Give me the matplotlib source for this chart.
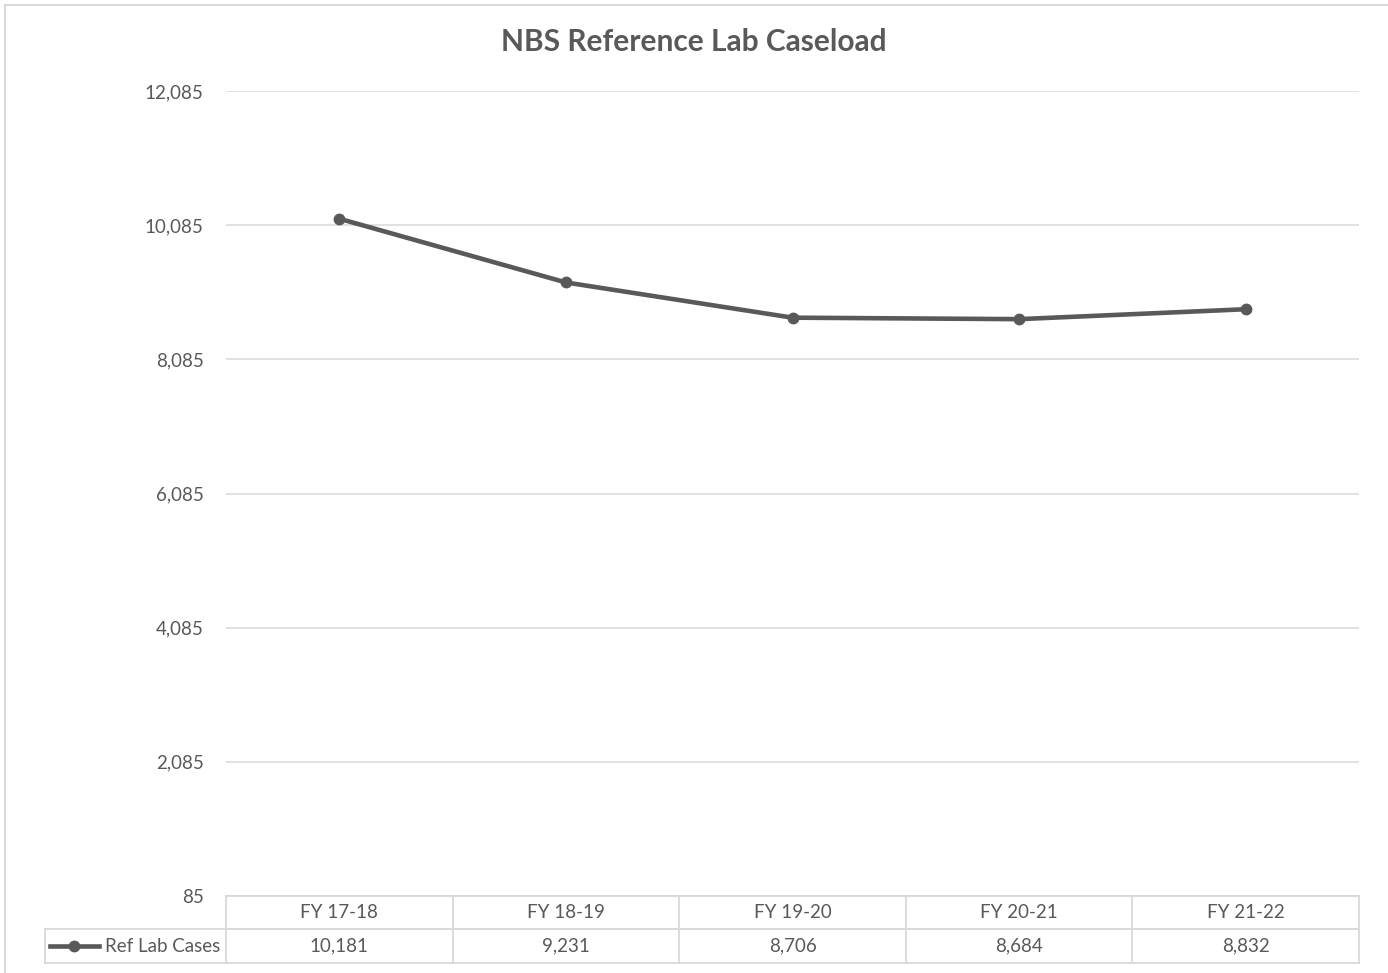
import numpy as np
import matplotlib.pyplot as plt
from matplotlib.lines import Line2D
import matplotlib.transforms as mtransforms

plt.rcParams['font.family'] = ['Lato', 'DejaVu Sans']

# Caseload per fiscal year
years = ['FY 17-18', 'FY 18-19', 'FY 19-20', 'FY 20-21', 'FY 21-22']
ref_lab_cases = [10181, 9231, 8706, 8684, 8832]
series_name = 'Ref Lab Cases'
y_ticks = [85, 2085, 4085, 6085, 8085, 10085, 12085]

line_col = '#595959'
grid_col = '#d9d9d9'
text_col = '#595959'
fs = 13.5

fig = plt.figure(figsize=(13.88, 9.73), dpi=100)
W, H = 1388, 973

# plot area in pixels: x 226..1359, y 91..896
ax = fig.add_axes([226 / W, (H - 896) / H, (1359 - 226) / W, (896 - 91) / H])

x = np.arange(len(years))
ax.plot(x, ref_lab_cases, color=line_col, lw=3.3, marker='o', ms=7.5,
        solid_capstyle='round', zorder=3)

ax.set_xlim(-0.5, len(years) - 0.5)
ax.set_ylim(y_ticks[0], y_ticks[-1])
ax.set_yticks(y_ticks)
ax.set_yticklabels([f'{t:,}' for t in y_ticks])
ax.set_xticks([])
ax.tick_params(axis='y', length=0, pad=16, labelsize=fs, labelcolor=text_col)
for s in ax.spines.values():
    s.set_visible(False)
ax.grid(axis='y', color=grid_col, lw=1.1)
ax.set_axisbelow(True)

# data table under the plot: x in data units, y in axes units
tr = mtransforms.blended_transform_factory(ax.transData, ax.transAxes)
px = 1.0 / (896 - 91)
r0, r1, r2 = 0.0, -33 * px, -67 * px
lbl_left = -0.5 - (226 - 45) / ((1359 - 226) / len(years))
lkw = dict(color=grid_col, lw=1.3, transform=tr, clip_on=False)

for yy in (r0, r1):
    ax.add_line(Line2D([-0.5, len(years) - 0.5], [yy, yy], **lkw))
ax.add_line(Line2D([lbl_left, len(years) - 0.5], [r1, r1], **lkw))
ax.add_line(Line2D([lbl_left, len(years) - 0.5], [r2, r2], **lkw))
ax.add_line(Line2D([lbl_left, lbl_left], [r1, r2], **lkw))
for i in range(len(years) + 1):
    ax.add_line(Line2D([i - 0.5, i - 0.5], [r0, r2], **lkw))

for i, (yr, v) in enumerate(zip(years, ref_lab_cases)):
    ax.text(i, (r0 + r1) / 2, yr, transform=tr, ha='center', va='center',
            fontsize=fs, color=text_col)
    ax.text(i, (r1 + r2) / 2, f'{v:,}', transform=tr, ha='center', va='center',
            fontsize=fs, color=text_col)

# legend key in the row label cell
ax.text(-0.5 - 6 / 226.6, (r1 + r2) / 2, series_name, transform=tr, ha='right',
        va='center', fontsize=fs, color=text_col)
key_x0 = -0.5 - (226 - 50) / 226.6
key_x1 = -0.5 - (226 - 99) / 226.6
ax.add_line(Line2D([key_x0, key_x1], [(r1 + r2) / 2] * 2, color=line_col, lw=3.3,
                   transform=tr, clip_on=False))
ax.add_line(Line2D([(key_x0 + key_x1) / 2], [(r1 + r2) / 2], color=line_col,
                   marker='o', ms=7.5, transform=tr, clip_on=False))

fig.text(694 / W, 1 - 42 / H, 'NBS Reference Lab Caseload', ha='center', va='center',
         fontsize=21.5, fontweight='bold', color=text_col)

# chart frame (top and left edges)
fig.add_artist(Line2D([5 / W, 1], [1 - 5 / H, 1 - 5 / H], color=grid_col, lw=1.5,
                      transform=fig.transFigure))
fig.add_artist(Line2D([5 / W, 5 / W], [0, 1 - 5 / H], color=grid_col, lw=1.5,
                      transform=fig.transFigure))

fig.savefig('out.png', dpi=100, facecolor='white')
